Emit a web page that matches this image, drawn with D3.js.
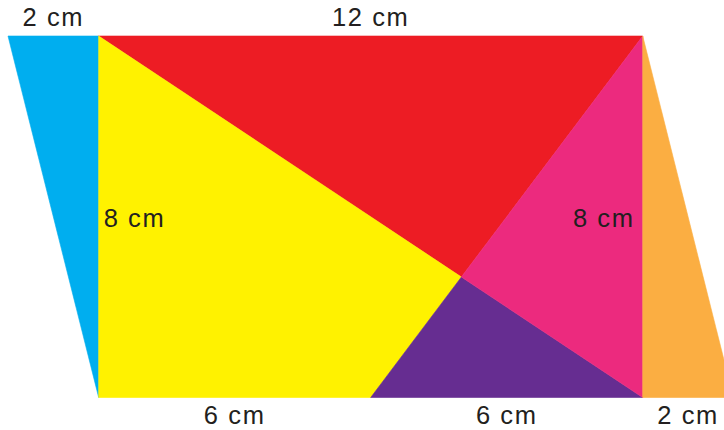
<!DOCTYPE html>
<html><head><meta charset="utf-8">
<script src="https://cdn.jsdelivr.net/npm/d3@7"></script>
<style>body{margin:0;background:#fff}svg{display:block}</style>
</head><body><svg id="c" width="724" height="430"></svg>
<script>
// Geometry in cm (figure units)
const shapeNames = ["blue", "red", "yellow", "purple", "pink", "orange"];
const shapeColors = ["#00AEEF", "#ED1C24", "#FFF200", "#662D91", "#EC2A7E", "#FBAE42"];
const shapeVertices = [
  [[-2, 8], [0, 8], [0, 0]],
  [[0, 8], [12, 8], [8, 8/3]],
  [[0, 8], [8, 8/3], [6, 0], [0, 0]],
  [[6, 0], [8, 8/3], [12, 0]],
  [[12, 8], [12, 0], [8, 8/3]],
  [[12, 8], [12, 0], [14, 0]]
];
const labelTexts = ["2 cm", "12 cm", "8 cm", "8 cm", "6 cm", "6 cm", "2 cm"];
const labelAnchorX = [-1, 6, 0.11, 11.82, 3, 9, 13];
const labelAnchorY = [8, 8, 4, 4, 0, 0, 0];
const labelAlign = ["middle", "middle", "start", "end", "middle", "middle", "middle"];
const labelSide = ["above", "above", "mid", "mid", "below", "below", "below"];

const x = d3.scaleLinear().domain([-2, 14]).range([8, 733.4]);
const y = d3.scaleLinear().domain([0, 8]).range([397.5, 36]);

const svg = d3.select("#c");
const line = d3.line().x(d => x(d[0])).y(d => y(d[1])).curve(d3.curveLinearClosed);

svg.selectAll("path.shape").data(shapeVertices).join("path")
  .attr("class", "shape")
  .attr("d", d => line(d))
  .attr("fill", (d, i) => shapeColors[i])
  .attr("stroke", (d, i) => shapeColors[i])
  .attr("stroke-width", 0.6)
  .attr("stroke-linejoin", "miter");

const offs = {above: -10, mid: 10, below: 26.5};
svg.selectAll("text.lbl").data(labelTexts).join("text")
  .attr("class", "lbl")
  .attr("x", (d, i) => x(labelAnchorX[i]))
  .attr("y", (d, i) => y(labelAnchorY[i]) + offs[labelSide[i]])
  .attr("text-anchor", (d, i) => labelAlign[i])
  .attr("font-family", "'Liberation Sans', Arial, Helvetica, sans-serif")
  .attr("font-size", 25.5)
  .attr("letter-spacing", "1.6px")
  .attr("fill", "#231F20")
  .text(d => d);
</script></body></html>
